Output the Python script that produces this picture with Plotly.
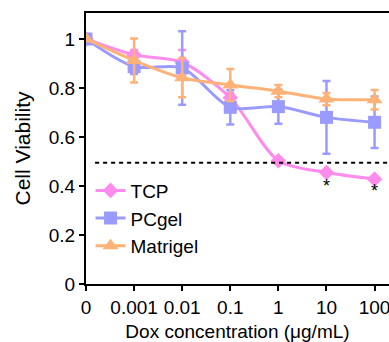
import plotly.graph_objects as go

categories = ["0", "0.001", "0.01", "0.1", "1", "10", "100"]
tcp = [1.0, 0.935, 0.905, 0.76, 0.503, 0.455, 0.428]
tcp_err = [0.0, 0.02, 0.05, 0.02, 0.01, 0.01, 0.01]
pcgel = [1.0, 0.887, 0.882, 0.721, 0.724, 0.68, 0.66]
pcgel_err = [0.0, 0.03, 0.15, 0.07, 0.07, 0.148, 0.105]
matrigel = [1.0, 0.912, 0.842, 0.812, 0.787, 0.755, 0.752]
matrigel_err = [0.0, 0.09, 0.08, 0.065, 0.025, 0.025, 0.04]
threshold = 0.495
star_x = ["10", "100"]
star_y = [0.395, 0.375]
yticks = [0, 0.2, 0.4, 0.6, 0.8, 1.0]
ytick_text = ["0", "0.2", "0.4", "0.6", "0.8", "1"]

xi = list(range(len(categories)))
font = "Liberation Sans, Arial, sans-serif"

fig = go.Figure()

def add(name, y, err, color, symbol, size):
    fig.add_trace(go.Scatter(
        x=xi, y=y, name=name, mode="lines+markers",
        line=dict(color=color, width=3, shape="spline", smoothing=0.8),
        marker=dict(symbol=symbol, size=size, color=color),
        error_y=dict(type="data", array=err, visible=True, color=color,
                     thickness=2.5, width=4),
    ))

add("TCP", tcp, tcp_err, "#FF8CEC", "diamond", 12)
add("PCgel", pcgel, pcgel_err, "#9B9BFF", "square", 13)
add("Matrigel", matrigel, matrigel_err, "#FFB277", "triangle-up", 14)

fig.add_trace(go.Scatter(
    x=[categories.index(s) for s in star_x], y=star_y, mode="text",
    text=["*"] * len(star_x), textfont=dict(size=18, color="black", family=font),
    showlegend=False, hoverinfo="skip",
))

fig.add_shape(type="line", xref="paper", yref="y", x0=0.03, x1=1,
              y0=threshold, y1=threshold,
              line=dict(color="black", width=2, dash="4px,4px"))

fig.update_layout(
    width=389, height=342,
    margin=dict(l=86, r=0, t=13, b=58),
    paper_bgcolor="white", plot_bgcolor="white",
    font=dict(family=font, size=19, color="black"),
    showlegend=True,
    legend=dict(x=0.015, y=0.415, xanchor="left", yanchor="top",
                bgcolor="rgba(0,0,0,0)", font=dict(size=19),
                itemwidth=30, tracegroupgap=0),
    xaxis=dict(
        range=[0, 6.3], tickmode="array", tickvals=xi, ticktext=categories,
        showline=True, linecolor="black", linewidth=2, mirror=True,
        ticks="outside", ticklen=5, tickwidth=2, tickcolor="black",
        showgrid=False, zeroline=False, ticklabeloverflow="allow",
        title=dict(text="Dox concentration (μg/mL)", font=dict(size=19), standoff=10),
        tickfont=dict(size=19),
    ),
    yaxis=dict(
        range=[0, 1.106], tickmode="array", tickvals=yticks, ticktext=ytick_text,
        showline=True, linecolor="black", linewidth=2,
        ticks="outside", ticklen=5, tickwidth=2, tickcolor="black",
        showgrid=False, zeroline=False,
        title=dict(text="Cell Viability", font=dict(size=21), standoff=12),
        tickfont=dict(size=19),
    ),
)

fig.write_html("out.html")
